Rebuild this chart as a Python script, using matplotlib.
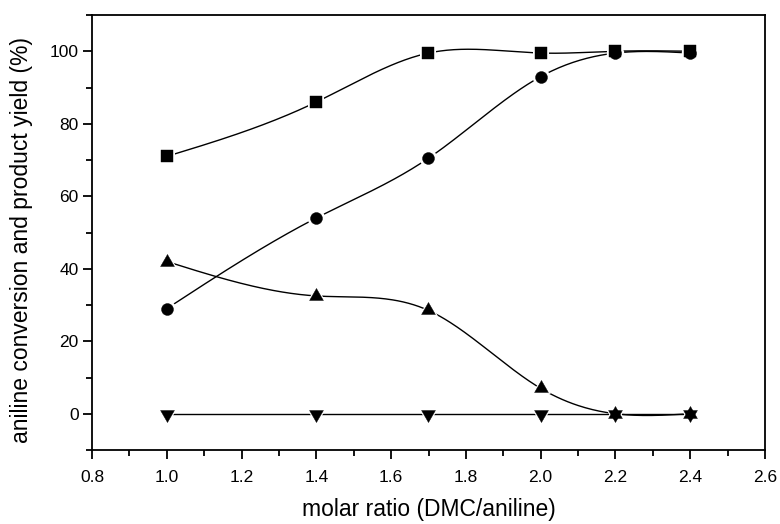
import numpy as np
import matplotlib
matplotlib.use("Agg")
import matplotlib.pyplot as plt
from matplotlib.ticker import MultipleLocator

plt.rcParams['font.family'] = ['Liberation Sans', 'DejaVu Sans']

# data
ratio = [1.0, 1.4, 1.7, 2.0, 2.2, 2.4]
conversion = [71, 86, 99.5, 99.5, 100, 100]
yield_a = [29, 54, 70.5, 93, 99.5, 99.5]
yield_b = [42, 32.5, 28.5, 7, 0, 0]
yield_c = [0, 0, 0, 0, 0, 0]


def spline(x, y, n=300):
    # natural cubic spline through the points (Origin-style smooth line)
    x = np.asarray(x, float)
    y = np.asarray(y, float)
    k = len(x)
    h = np.diff(x)
    A = np.zeros((k, k))
    b = np.zeros(k)
    A[0, 0] = A[-1, -1] = 1
    for i in range(1, k - 1):
        A[i, i - 1] = h[i - 1]
        A[i, i] = 2 * (h[i - 1] + h[i])
        A[i, i + 1] = h[i]
        b[i] = 6 * ((y[i + 1] - y[i]) / h[i] - (y[i] - y[i - 1]) / h[i - 1])
    m = np.linalg.solve(A, b)
    xs = np.linspace(x[0], x[-1], n)
    idx = np.clip(np.searchsorted(x, xs) - 1, 0, k - 2)
    x0, x1 = x[idx], x[idx + 1]
    hh = x1 - x0
    t0, t1 = x1 - xs, xs - x0
    ys = (m[idx] * t0**3 + m[idx + 1] * t1**3) / (6 * hh) \
        + (y[idx] / hh - m[idx] * hh / 6) * t0 \
        + (y[idx + 1] / hh - m[idx + 1] * hh / 6) * t1
    return xs, ys


# triangles centred on their centroid, so up+down overlap gives a star
tri_up = [(0, 1), (-0.866, -0.5), (0.866, -0.5), (0, 1)]
tri_down = [(0, -1), (-0.866, 0.5), (0.866, 0.5), (0, -1)]

fig = plt.figure(figsize=(7.8, 5.24), dpi=100)
ax = fig.add_axes([92 / 780, (524 - 450) / 524, (765 - 92) / 780, (450 - 15) / 524])

series = [(conversion, 's', 8), (yield_a, 'o', 8.6), (yield_b, tri_up, 11.5), (yield_c, tri_down, 11.5)]
for vals, mk, ms in series:
    xs, ys = spline(ratio, vals)
    ax.plot(xs, ys, color='black', lw=1.0, zorder=2)
# white halo so the lines stop short of the symbols
for vals, mk, ms in series:
    ax.plot(ratio, vals, linestyle='none', marker=mk, ms=ms + 4, mfc='white',
            mec='white', mew=0, zorder=3)
for vals, mk, ms in series:
    ax.plot(ratio, vals, linestyle='none', marker=mk, ms=ms, mfc='black',
            mec='black', mew=0.3, zorder=4)

ax.set_xlim(0.8, 2.6)
ax.set_ylim(-10, 110)
ax.xaxis.set_minor_locator(MultipleLocator(0.1))
ax.yaxis.set_minor_locator(MultipleLocator(10))
ax.set_yticks([0, 20, 40, 60, 80, 100])
ax.set_xticks([0.8, 1.0, 1.2, 1.4, 1.6, 1.8, 2.0, 2.2, 2.4, 2.6])
ax.set_xticklabels(['0.8', '1.0', '1.2', '1.4', '1.6', '1.8', '2.0', '2.2', '2.4', '2.6'])
ax.tick_params(which='major', direction='out', length=6.5, width=1.3, labelsize=12.5, colors='black')
ax.tick_params(axis='x', which='major', pad=8)
ax.tick_params(axis='y', which='major', pad=3)
ax.tick_params(which='minor', direction='out', length=4, width=1.3)
for s in ax.spines.values():
    s.set_linewidth(1.3)

ax.set_xlabel('molar ratio (DMC/aniline)', fontsize=16.5, labelpad=9)
ax.set_ylabel('aniline conversion and product yield (%)', fontsize=16.5)
ax.yaxis.set_label_coords(-0.088, 0.483)

fig.savefig('out.png', dpi=100)
